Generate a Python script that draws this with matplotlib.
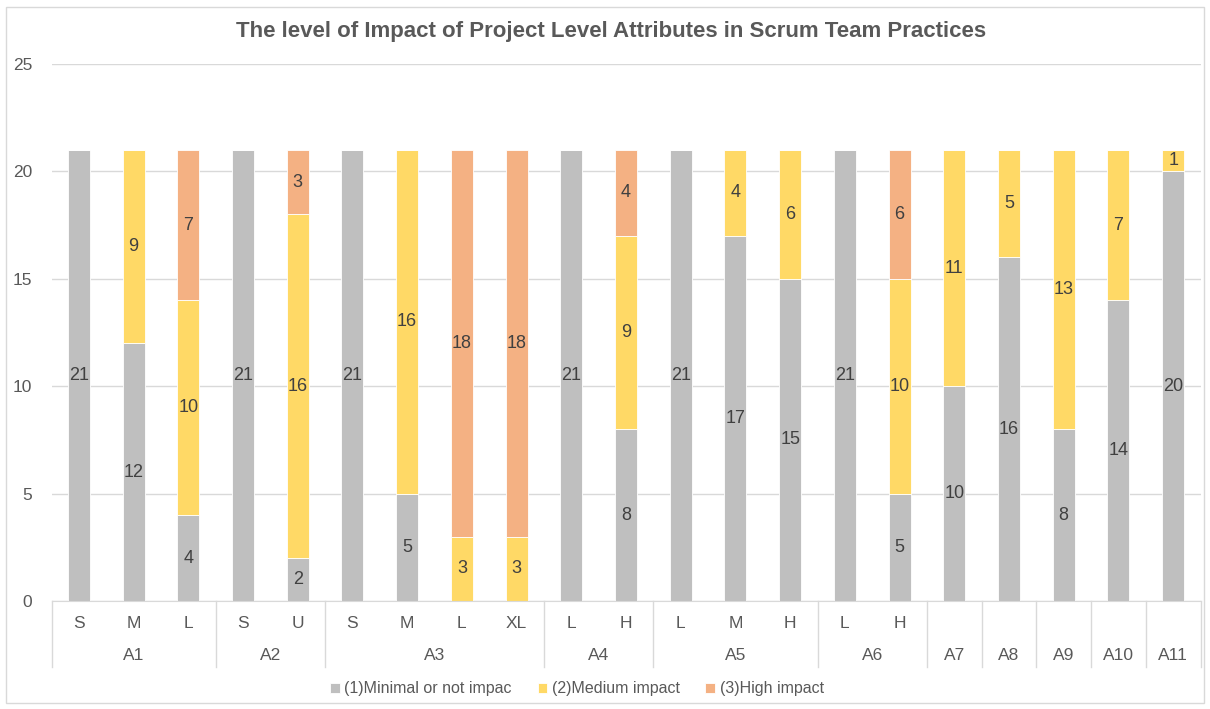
import numpy as np
import matplotlib.pyplot as plt
from matplotlib.patches import Rectangle
import matplotlib.transforms as mtransforms

plt.rcParams['font.family'] = ['Liberation Sans', 'DejaVu Sans']

groups = ['A1', 'A2', 'A3', 'A4', 'A5', 'A6', 'A7', 'A8', 'A9', 'A10', 'A11']
subs = [['S', 'M', 'L'], ['S', 'U'], ['S', 'M', 'L', 'XL'], ['L', 'H'],
        ['L', 'M', 'H'], ['L', 'H'], [''], [''], [''], [''], ['']]
minimal = [21, 12, 4, 21, 2, 21, 5, 0, 0, 21, 8, 21, 17, 15, 21, 5, 10, 16, 8, 14, 20]
medium = [0, 9, 10, 0, 16, 0, 16, 3, 3, 0, 9, 0, 4, 6, 0, 10, 11, 5, 13, 7, 1]
high = [0, 0, 7, 0, 3, 0, 0, 18, 18, 0, 4, 0, 0, 0, 0, 6, 0, 0, 0, 0, 0]
series_names = ['(1)Minimal or not impac', '(2)Medium impact', '(3)High impact']
colors = ['#BFBFBF', '#FFD966', '#F4B183']
title = 'The level of Impact of Project Level Attributes in Scrum Team Practices'

W, H = 1210, 709
fig = plt.figure(figsize=(W / 100, H / 100), dpi=100)
ax = fig.add_axes([51.5 / W, (H - 601) / H, (1200.5 - 51.5) / W, (601 - 64) / H])

n = len(minimal)
x = np.arange(n)
bottom = np.zeros(n)
for vals, col, name in zip([minimal, medium, high], colors, series_names):
    vals = np.array(vals, dtype=float)
    ax.bar(x, vals, 0.4, bottom=bottom, color=col, edgecolor='white',
           linewidth=0.6, label=name, zorder=2)
    for xi, b, v in zip(x, bottom, vals):
        if v > 0:
            ax.text(xi, b + v / 2, '%d' % v, ha='center', va='center',
                    fontsize=13, color='#404040', zorder=3)
    bottom += vals

ax.set_xlim(-0.5, n - 0.5)
ax.set_ylim(0, 25)
ax.set_yticks(range(0, 26, 5))
ax.yaxis.grid(True, color='#D9D9D9', linewidth=1)
ax.set_axisbelow(True)
for s in ['top', 'right', 'left']:
    ax.spines[s].set_visible(False)
ax.spines['bottom'].set_color('#D9D9D9')
ax.tick_params(axis='y', length=0, labelsize=12.5, labelcolor='#595959', pad=14)
ax.tick_params(axis='x', length=0, labelbottom=False)

# multi-level category axis
trans = mtransforms.blended_transform_factory(ax.transData, ax.transAxes)
line_bot = -(667 - 601) / 537
sub_y = -(624 - 601) / 537
grp_y = -(655 - 601) / 537
pos = 0
edges = [-0.5]
for g, sl in zip(groups, subs):
    for j, s in enumerate(sl):
        if s:
            ax.text(pos + j, sub_y, s, transform=trans, ha='center', va='center',
                    fontsize=12.5, color='#595959')
    center = pos + (len(sl) - 1) / 2
    ax.text(center, grp_y, g, transform=trans, ha='center', va='center',
            fontsize=12.5, color='#595959')
    pos += len(sl)
    edges.append(pos - 0.5)
for e in edges:
    ax.plot([e, e], [0, line_bot], transform=trans, color='#D9D9D9',
            linewidth=1, clip_on=False)

fig.text(611 / W, (H - 32) / H, title, ha='center', va='center',
         fontsize=16, fontweight='bold', color='#595959')

leg = fig.legend(loc='center', bbox_to_anchor=(577 / W, (H - 689) / H), ncol=3,
                 frameon=False, fontsize=11.5, handlelength=0.6, handleheight=0.6,
                 handletextpad=0.3, columnspacing=1.6)
for t in leg.get_texts():
    t.set_color('#595959')

fig.patches.append(Rectangle((6 / W, 6 / H), (W - 12) / W, (H - 13) / H,
                             transform=fig.transFigure, fill=False,
                             edgecolor='#D9D9D9', linewidth=1))

fig.savefig('out.png', dpi=100)
